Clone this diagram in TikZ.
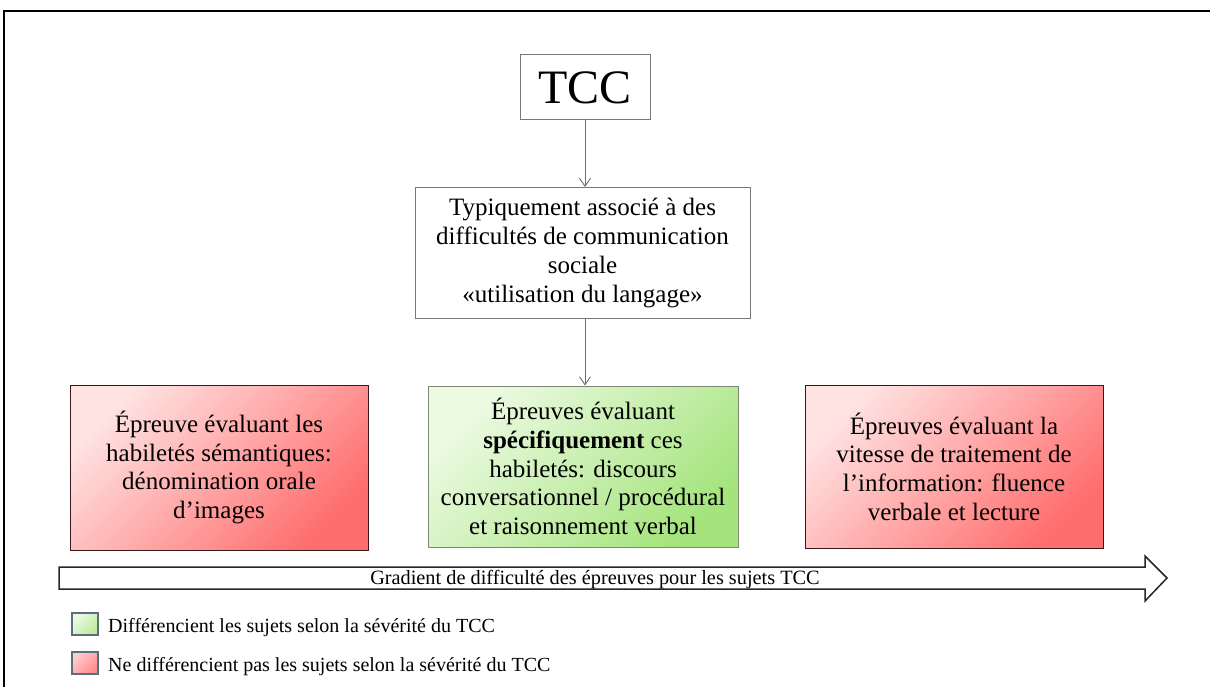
\documentclass[tikz,border=0pt]{standalone}
\usepackage{fontspec}
\setmainfont{Liberation Serif}
\usetikzlibrary{arrows.meta,shadings}
\definecolor{redL}{RGB}{255,226,226}
\definecolor{redD}{RGB}{255,110,110}
\definecolor{greenL}{RGB}{236,250,226}
\definecolor{greenD}{RGB}{165,228,125}
\definecolor{boxgray}{RGB}{120,120,120}
\definecolor{connGray}{RGB}{110,110,110}
\definecolor{legBorder}{RGB}{90,110,125}
\tikzset{
  whitebox/.style={draw=boxgray, line width=1pt, fill=white, inner sep=0pt, align=center},
  bodytext/.style={font=\fontsize{25}{28.7}\selectfont},
  redbox/.style={draw={rgb,255:red,60;green,25;blue,25}, line width=1pt, inner sep=0pt, align=center,
     top color=redL, bottom color=redD, shading angle=45},
  greenbox/.style={draw={rgb,255:red,125;green,135;blue,115}, line width=1pt, inner sep=0pt, align=center,
     top color=greenL, bottom color=greenD, shading angle=45},
  conn/.style={draw=connGray, line width=0.9pt, -{Straight Barb[length=8pt,width=11pt]}},
  bigarrow/.style={draw=black!85, line width=1.5pt, fill=white, line join=miter},
  legsq/.style={draw=legBorder, line width=1.2pt, minimum width=26pt, minimum height=22pt, inner sep=0pt},
  legtext/.style={font=\fontsize{20}{24}\selectfont, inner sep=0pt, anchor=base west},
  frameline/.style={draw=black, line width=2.5pt}
}
\begin{document}
\begin{tikzpicture}[x=1pt,y=-1pt]
\useasboundingbox (0,0) rectangle (1210,687);
\fill[white] (0,0) rectangle (1210,687);
% frame
\draw[frameline] (4,687) -- (4,11) -- (1210,11);

% nodes
\node[whitebox, minimum width=130pt, minimum height=65pt, font=\fontsize{48}{52}\selectfont] (tcc) at (585,87.5) {TCC};
\node[whitebox, bodytext, minimum width=335pt, minimum height=131pt] (mid) at (582.5,253)
  {Typiquement associé à des\\difficultés de communication\\sociale\\«utilisation du langage»};
\node[redbox, bodytext, minimum width=298pt, minimum height=165pt] (left) at (219,467.5)
  {Épreuve évaluant les\\habiletés sémantiques:\\dénomination orale\\d’images};
\node[greenbox, bodytext, minimum width=310pt, minimum height=161pt] (center) at (583,466.5)
  {Épreuves évaluant\\\textbf{spécifiquement} ces\\habiletés: discours\\conversationnel / procédural\\et raisonnement verbal};
\node[redbox, bodytext, minimum width=298pt, minimum height=163pt] (right) at (954,466.5)
  {Épreuves évaluant la\\vitesse de traitement de\\l’information: fluence\\verbale et lecture};

% connectors
\draw[conn] (tcc.south) -- (tcc.south |- mid.north);
\draw[conn] (mid.south -| tcc.south) -- (tcc.south |- center.north);

% big arrow
\draw[bigarrow] (59,567) -- (1145,567) -- (1145,556) -- (1167,578) -- (1145,601) -- (1145,589) -- (59,589) -- cycle;
\node[font=\fontsize{20.3}{24}\selectfont, inner sep=0pt, anchor=base] (grad) at (595,584)
  {Gradient de difficulté des épreuves pour les sujets TCC};

% legend
\node[legsq, top color=greenL, bottom color={rgb,255:red,190;green,235;blue,160}, shading angle=45] (lg1) at (85,624) {};
\node[legsq, top color={rgb,255:red,255;green,205;blue,205}, bottom color={rgb,255:red,255;green,140;blue,140}, shading angle=45] (lg2) at (85,663) {};
\node[legtext] (lt1) at (108,632) {Différencient les sujets selon la sévérité du TCC};
\node[legtext] (lt2) at (108,671) {Ne différencient pas les sujets selon la sévérité du TCC};
\end{tikzpicture}
\end{document}
